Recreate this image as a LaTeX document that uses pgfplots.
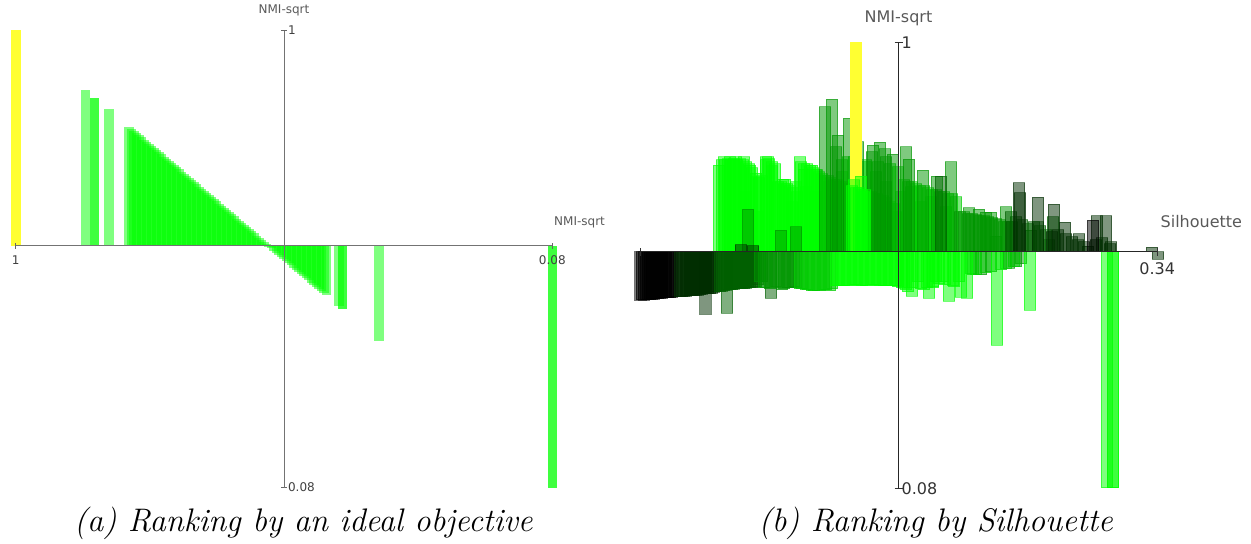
\documentclass[border=0pt]{standalone}
\usepackage{pgfplots}
\pgfplotsset{compat=1.18}
\usepackage{fontspec}
\newfontfamily\dejavu{DejaVu Sans}
\definecolor{g0}{RGB}{0,0,0}
\definecolor{g1}{RGB}{0,45,0}
\definecolor{g2}{RGB}{0,95,0}
\definecolor{g3}{RGB}{0,150,0}
\definecolor{g4}{RGB}{0,205,0}
\definecolor{g5}{RGB}{0,255,0}
\definecolor{yl}{RGB}{255,255,50}
\pgfplotsset{
  bb/.style={ybar, bar shift=0pt, bar width=11.7, fill=#1, draw=#1,
     fill opacity=0.5, draw opacity=0.55, line width=0.35pt, forget plot},
  ab/.style={ybar, bar shift=0pt, bar width=9.5, fill=g5, draw=none,
     fill opacity=0.5, forget plot},
  panel/.style={axis lines=middle, axis line style={-}, clip=false,
     enlargelimits=false, x=0.5pt, y=0.5pt, tick align=center,
     anchor=south west, axis on top},
}
% one \addplot per bar, so that overlapping translucent bars add up
\newcommand\barset[2]{\foreach \x/\v in {#2}{%
  \edef\tmp{\noexpand\addplot[#1] coordinates {(\x,\v)};}\tmp}}
\begin{document}
\begin{tikzpicture}
\useasboundingbox (0,0) rectangle (625.5pt,-271.5pt);
% ---------------- panel (a) ----------------
\begin{axis}[panel, at={(7.85pt,-243.75pt)},
  xmin=-268.3, xmax=268.3, ymin=-241.8, ymax=215.2,
  axis line style={black!55, line width=0.5pt},
  major tick length=3pt, tick style={black!60, line width=0.5pt},
  xtick={-268.3,268.3}, xticklabels={1,0.08},
  ytick={-241.8,215.2}, yticklabels={0.08,1},
  ticklabel style={font=\dejavu\fontsize{6}{6}\selectfont, text=black!75},
  yticklabel style={anchor=west},
  xlabel={NMI-sqrt}, ylabel={NMI-sqrt},
  xlabel style={at={(axis cs:268.3,0)}, anchor=south west, xshift=-2.6pt, yshift=5.5pt,
     font=\dejavu\fontsize{6}{6}\selectfont, text=black!65},
  ylabel style={at={(axis cs:0,215.2)}, anchor=south, yshift=3.5pt,
     font=\dejavu\fontsize{6}{6}\selectfont, text=black!65},
]
\addplot[ybar, bar shift=0pt, bar width=9.7, fill=yl, draw=none, forget plot]
  coordinates {(-268.15,215.7)};
\barset{ab}{-198.5/155.7, -189.35/148, -189.35/148, -175/136.4}
\barset{ab}{
-155.25/119.0, -152.75/116.9, -150.25/114.7, -147.75/112.6, -145.25/110.5,
-142.75/108.3, -140.25/106.2, -137.75/104.1, -135.25/101.9, -132.75/99.8,
-130.25/97.7, -127.75/95.5, -125.25/93.4, -122.75/91.3, -120.25/89.1,
-117.75/87.0, -115.25/84.9, -112.75/82.7, -110.25/80.6, -107.75/78.5,
-105.25/76.3, -102.75/74.2, -100.25/72.1, -97.75/69.9, -95.25/67.8,
-92.75/65.7, -90.25/63.5, -87.75/61.4, -85.25/59.2, -82.75/57.1,
-80.25/55.0, -77.75/52.8, -75.25/50.7, -72.75/48.6, -70.25/46.4,
-67.75/44.3, -65.25/42.2, -62.75/40.0, -60.25/37.9, -57.75/35.8,
-55.25/33.6, -52.75/31.5, -50.25/29.4, -47.75/27.2, -45.25/25.1,
-42.75/23.0, -40.25/20.8, -37.75/18.7, -35.25/16.6, -32.75/14.4,
-30.25/12.3, -27.75/10.2, -25.25/8.0, -22.75/5.9, -20.25/3.8,
-17.75/1.6, -15.25/-0.5, -12.75/-2.6, -10.25/-4.8, -7.75/-6.9,
-5.25/-9.0, -2.75/-11.2, -0.25/-13.3, 2.25/-15.4, 4.75/-17.6,
7.25/-19.7, 9.75/-21.8, 12.25/-24.0, 14.75/-26.1, 17.25/-28.2,
19.75/-30.4, 22.25/-32.5, 24.75/-34.6, 27.25/-36.8, 29.75/-38.9,
32.25/-41.0, 34.75/-43.2, 37.25/-45.3, 39.75/-47.4, 42.25/-49.6}
\barset{ab}{55/-60.3, 58.5/-63.6, 58.5/-63.6, 95.2/-95.3, 268.5/-242, 268.5/-242}
\end{axis}
% ---------------- panel (b) ----------------
\begin{axis}[panel, at={(320.15pt,-244.3pt)},
  xmin=-258.2, xmax=258.7, ymin=-236.9, ymax=209.4,
  axis line style={black!85, line width=0.5pt},
  major tick length=4pt, tick style={black!80, line width=0.5pt},
  xtick={-258.2,258.7}, xticklabels={,0.34},
  ytick={-236.9,209.4}, yticklabels={0.08,1},
  ticklabel style={font=\dejavu\fontsize{8}{8}\selectfont, text=black!80},
  yticklabel style={anchor=west},
  xlabel={Silhouette}, ylabel={NMI-sqrt},
  xlabel style={at={(axis cs:258.7,0)}, anchor=south west, xshift=-1.8pt, yshift=8.3pt,
     font=\dejavu\fontsize{8}{8}\selectfont, text=black!65},
  ylabel style={at={(axis cs:0,209.4)}, anchor=south, yshift=4.8pt,
     font=\dejavu\fontsize{8}{8}\selectfont, text=black!65},
]
% ----- negative bars -----
\barset{bb=g0}{
-257.95/-48.3, -254.65/-48.3, -250.65/-48, -246.65/-47.5, -242.65/-47,
-238.65/-46.5, -234.65/-46, -230.65/-46, -226.65/-45.5, -222.65/-45,
-256.65/-48, -252.65/-48, -248.65/-47.8, -244.65/-47.3, -240.65/-47,
-236.65/-46.5, -232.65/-46, -228.65/-45.8}
\barset{bb=g1}{
-218.65/-45, -214.65/-44.5, -210.65/-44, -206.65/-44, -202.65/-43.5,
-198.65/-43, -194.65/-42, -190.65/-42, -186.65/-41.5, -182.65/-40,
-216.65/-44.8, -212.65/-44.3, -208.65/-44, -204.65/-43.8, -200.65/-43.2,
-196.65/-42.5, -192.65/-42, -188.65/-41.8, -184.65/-40.5,
-193.15/-62.7, 259.35/-7.3}
\barset{bb=g2}{
-171.65/-61.7, -178.65/-40, -174.65/-39, -170.65/-38, -166.65/-38,
-162.65/-37, -158.65/-37, -154.65/-37, -150.65/-36, -146.65/-36,
-142.65/-35, -127.65/-46.7,
-176.65/-39.5, -172.65/-38.5, -168.65/-38, -164.65/-37.5, -160.65/-37,
-156.65/-37, -152.65/-36.5, -148.65/-36, -144.65/-35.5, -140.65/-33, -136.65/-30}
\barset{bb=g3}{
-138.65/-30, -134.65/-36, -122.65/-35, -116.65/-38, -110.65/-36,
-104.65/-35, 82.35/-23, 92.35/-20, 110.35/-16.7, 117.35/-15, 122.35/-12,
-132.65/-36, -128.65/-37, -120.65/-36, -114.65/-37, -108.65/-36,
-102.65/-36, -96.65/-37}
\barset{bb=g4}{
-98.65/-37, -92.65/-38, -86.65/-39, -80.65/-39, -74.65/-38, -68.65/-39,
74.35/-23, -90.65/-38, -84.65/-39, -78.65/-38.5, -72.65/-38, -66.65/-37,
72.35/-22, 77.35/-23, 87.35/-21, 102.35/-18, 107.35/-17, 115.35/-15}
\barset{bb=g5}{
-62.65/-34, -56.65/-34, -50.65/-34, -44.65/-33, -38.65/-34, -32.65/-34,
-26.65/-33, -20.65/-34, -14.65/-34, -8.65/-34, -2.65/-34, 3.35/-36,
5.35/-36.7, 9.35/-40, 13.35/-44.3, 19.35/-30, 25.35/-38, 30.35/-46.7,
34.35/-36, 37.35/-30, 44.35/-30, 50.35/-49.3, 55.35/-35, 62.35/-45.7,
68.35/-46.7, 98.35/-93.3, 131.35/-58.3, 208.35/-236, 214.35/-236, 214.35/-236,
-60.65/-34, -54.65/-34, -48.65/-33.5, -42.65/-33, -36.65/-34, -30.65/-33.5,
-24.65/-33, -18.65/-34, -12.65/-34, -6.65/-34, -0.65/-35, 7.35/-38,
13.35/-36, 22.35/-37, 28.35/-36, 34.35/-35, 40.35/-32, 46.35/-33,
54.35/-34, 60.35/-30}
% ----- positive bars -----
\barset{bb=g5}{
-179.65/86.7, -174.65/95, -168.65/95, -162.65/95, -154.65/95, -148.65/86.7,
-142.65/78.3, -132.65/95, -130.65/95, -126.65/86, -115.65/72.3, -113.65/72.3,
-98.65/95, -94.65/82.3, -86.65/86.7, -81.65/82,
-152.65/60, -140.65/40, -106.65/50, -102.65/70, -92.65/65, -82.65/60,
-70.65/70, -64.65/55, -56.65/80, -50.65/65,
-28.65/50, -22.65/45, -12.65/30, -2.65/40,
-176.65/92, -173.65/92, -170.65/93, -167.65/92, -164.65/93, -161.65/92,
-158.65/93, -155.65/92, -152.65/90, -149.65/88, -146.65/84,
-142.65/75, -139.65/74, -136.65/76,
-132.65/92, -129.65/93, -126.65/90, -123.65/88,
-120.65/70, -117.65/70, -114.65/68, -111.65/68, -108.65/66, -105.65/64,
-101.65/60,
-97.65/90, -94.65/88, -91.65/88, -88.65/86, -85.65/84, -82.65/82,
-79.65/80, -76.65/78, -73.65/76, -70.65/76, -67.65/74,
-64.65/72, -61.65/72, -58.65/70, -55.65/70, -52.65/68, -49.65/68,
-30.65/60, -27.65/60, -24.65/58,
-21.65/58, -18.65/56, -15.65/56, -12.65/54, -8.65/50, -4.65/48}
\barset{bb=g4}{
-50.65/95, -32.65/90, -22.65/80, -12.65/70, 2.35/60, 12.35/65,
22.35/50, 32.35/55, 47.35/45,
-56.65/92, -44.65/95, -32.65/92, -20.65/90, -8.65/88, -0.65/85,
5.35/72, 9.35/70, 13.35/70, 17.35/68, 21.35/66, 25.35/66, 29.35/64,
33.35/62, 37.35/62, 41.35/60, 45.35/60, 49.35/58, 53.35/58, 57.35/55}
\barset{bb=g3}{
-150.65/42.7, -117.65/21.7, -102.65/25, -73.65/145, -66.65/152.7,
-60.65/116.7, -49.65/133.3, -25.65/106.7, -18.65/109.3, -13.65/103,
-5.65/97.3, 7.35/105, 10.35/92.7, 24.35/81.7, 38.35/75.7, 52.35/90,
70.35/44, 80.35/42.7, 87.35/39.3, 92.35/39.3, 97.35/15.7, 107.35/45,
-62.65/105, -40.65/110, -26.65/100, -12.65/95,
61.35/40, 65.35/40, 69.35/38, 73.35/38, 77.35/37, 81.35/36, 85.35/36,
89.35/35, 93.35/34, 97.35/33, 101.35/32, 105.35/30, 109.35/30}
\barset{bb=g2}{
42.35/75.7, 112.35/40, 132.35/21.7, 139.35/30, 150.35/12, 154.35/35,
113.35/30, 117.35/35, 123.35/32, 129.35/28, 135.35/30, 141.35/26, 147.35/22}
\barset{bb=g1}{
-157.65/7, -145.65/6, 120.35/69, 121.35/59, 139.35/54.3, 155.35/47.7,
166.35/29.3, 180.35/18, 189.35/5.7, 198.35/36, 207.35/36, 212.35/10,
253.35/4.3,
153.35/20, 159.35/22, 167.35/18, 173.35/15, 179.35/12, 185.35/10,
197.35/12, 203.35/14, 211.35/8}
\barset{bb=g0}{194.35/31.7}
% the yellow bar, with the bright bars that cover its lower part
\addplot[ybar, bar shift=0pt, bar width=11.7, fill=yl, draw=none, forget plot]
  coordinates {(-42.3,210)};
\barset{bb=g5}{
-46.65/66, -44.65/72, -42.65/64, -39.65/64, -37.65/75.7, -36.65/62,
-34.65/60, -33.65/62}
\end{axis}
% captions
\node[anchor=base, font=\fontsize{16.3}{19}\selectfont\itshape] at (151.7pt,-265.5pt)
  {(a) Ranking by an ideal objective};
\node[anchor=base, font=\fontsize{16.3}{19}\selectfont\itshape] at (467.9pt,-265.5pt)
  {(b) Ranking by Silhouette};
\end{tikzpicture}
\end{document}
